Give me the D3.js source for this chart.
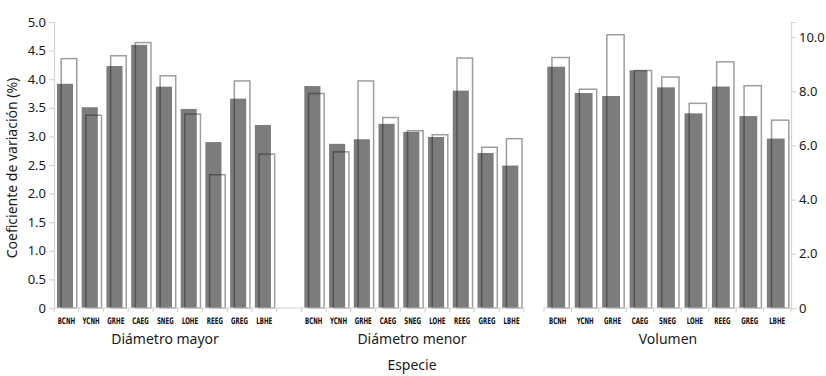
<!DOCTYPE html>
<html lang="es">
<head>
<meta charset="UTF-8">
<title>Coeficiente de variación por especie</title>
<script src="https://d3js.org/d3.v7.min.js"></script>
<style>
body {margin: 0; background: white;}
svg {display: block;}
.tick text {font-family: "Noto Sans", sans-serif; font-size: 13px; fill: #1a1a1a;}
.cat {font-family: "DejaVu Sans Condensed", "Liberation Sans Narrow", sans-serif; font-size: 9px; fill: #111; font-weight: bold;}
.lbl {font-family: "Noto Sans", sans-serif; font-size: 14px; fill: #1a1a1a;}
</style>
</head>
<body>
<svg width="826" height="376"></svg>
<script>
// especies
var species = ["BCNH", "YCNH", "GRHE", "CAEG", "SNEG", "LOHE", "REEG", "GREG", "LBHE"];

// diametro mayor (barra gris / barra blanca)
var mayorGris   = [3.92, 3.51, 4.23, 4.60, 3.87, 3.48, 2.90, 3.66, 3.20];
var mayorBlanca = [4.36, 3.37, 4.41, 4.64, 4.06, 3.39, 2.33, 3.97, 2.69];

// diametro menor
var menorGris   = [3.88, 2.87, 2.95, 3.22, 3.08, 2.99, 3.80, 2.71, 2.49];
var menorBlanca = [3.75, 2.73, 3.97, 3.33, 3.10, 3.03, 4.37, 2.81, 2.96];

// volumen (eje derecho)
var volGris   = [8.90, 7.93, 7.82, 8.77, 8.14, 7.18, 8.17, 7.08, 6.25];
var volBlanca = [9.24, 8.07, 10.08, 8.76, 8.52, 7.55, 9.08, 8.20, 6.93];

var leftTicks  = [0, 0.5, 1, 1.5, 2, 2.5, 3, 3.5, 4, 4.5, 5];
var rightTicks = [0, 2, 4, 6, 8, 10];
var volMax = 10.55;

var svg = d3.select("svg");
var yTop = 22, yBottom = 308;
var axisColor = "#d4d4d4";

var yl = d3.scaleLinear().domain([0, 5]).range([yBottom, yTop]);
var yr = d3.scaleLinear().domain([0, volMax]).range([yBottom, yTop]);

// left chart: 9 + gap + 9 slots
var slotsLeft = species.map(function(s) { return "m_" + s; })
  .concat(["gap"])
  .concat(species.map(function(s) { return "n_" + s; }));
var xl = d3.scaleBand().domain(slotsLeft).range([54, 524]);
var xr = d3.scaleBand().domain(species.map(function(s) { return "v_" + s; })).range([544, 791]);

function drawBars(x, y, prefix, gris, blanca) {
  var g = svg.append("g");
  var bw = x.bandwidth();
  g.selectAll("rect.gris").data(species).enter().append("rect")
    .attr("class", "gris")
    .attr("x", function(d) { return x(prefix + d) + bw * 0.12; })
    .attr("width", bw * 0.65)
    .attr("y", function(d, i) { return y(gris[i]); })
    .attr("height", function(d, i) { return yBottom - y(gris[i]); })
    .attr("fill", "#7c7c7c");
  g.selectAll("rect.blanca").data(species).enter().append("rect")
    .attr("class", "blanca")
    .attr("x", function(d) { return x(prefix + d) + bw * 0.29; })
    .attr("width", bw * 0.63)
    .attr("y", function(d, i) { return y(blanca[i]); })
    .attr("height", function(d, i) { return yBottom - y(blanca[i]); })
    .attr("fill", "none")
    .attr("stroke", "rgba(25,25,25,0.42)")
    .attr("stroke-width", 1.5);
  // condensed species codes
  g.selectAll("text").data(species).enter().append("text")
    .attr("class", "cat")
    .attr("transform", function(d) { return "translate(" + (x(prefix + d) + bw / 2) + ",324) scale(0.68,1)"; })
    .attr("text-anchor", "middle")
    .text(function(d) { return d; });
}

drawBars(xl, yl, "m_", mayorGris, mayorBlanca);
drawBars(xl, yl, "n_", menorGris, menorBlanca);
drawBars(xr, yr, "v_", volGris, volBlanca);

// x axis lines and boundary ticks
function xAxisLine(x) {
  var r = x.range();
  svg.append("line").attr("x1", r[0]).attr("x2", r[1]).attr("y1", yBottom).attr("y2", yBottom)
    .attr("stroke", axisColor).attr("stroke-width", 1.2);
  var bounds = x.domain().map(function(d) { return x(d); }).concat([r[1]]);
  svg.selectAll(null).data(bounds).enter().append("line")
    .attr("x1", function(d) { return d; }).attr("x2", function(d) { return d; })
    .attr("y1", yBottom).attr("y2", yBottom + 4)
    .attr("stroke", axisColor).attr("stroke-width", 1.2);
}
xAxisLine(xl);
xAxisLine(xr);

function fmt(d) { return d === 0 ? "0" : d3.format(".1f")(d); }

var ax = svg.append("g").attr("transform", "translate(54,0)")
  .call(d3.axisLeft(yl).tickValues(leftTicks).tickFormat(fmt).tickSize(5).tickPadding(3));
var ax2 = svg.append("g").attr("transform", "translate(791,0)")
  .call(d3.axisRight(yr).tickValues(rightTicks).tickFormat(fmt).tickSize(5).tickPadding(3));
[ax, ax2].forEach(function(a) {
  a.select(".domain").attr("stroke", axisColor).attr("stroke-width", 1.2);
  a.selectAll(".tick line").attr("stroke", axisColor).attr("stroke-width", 1.2);
  a.selectAll(".tick text").attr("font-family", null).attr("font-size", null);
});

// labels
svg.append("text").attr("class", "lbl").attr("text-anchor", "middle")
  .attr("transform", "translate(17,168) rotate(-90)").text("Coeficiente de variación (%)");
svg.append("text").attr("class", "lbl").attr("text-anchor", "middle")
  .attr("x", 165).attr("y", 344).text("Diámetro mayor");
svg.append("text").attr("class", "lbl").attr("text-anchor", "middle")
  .attr("x", 412).attr("y", 344).text("Diámetro menor");
svg.append("text").attr("class", "lbl").attr("text-anchor", "middle")
  .attr("x", 668).attr("y", 344).text("Volumen");
svg.append("text").attr("class", "lbl").attr("text-anchor", "middle")
  .attr("x", 412).attr("y", 370).text("Especie");
</script>
</body>
</html>
